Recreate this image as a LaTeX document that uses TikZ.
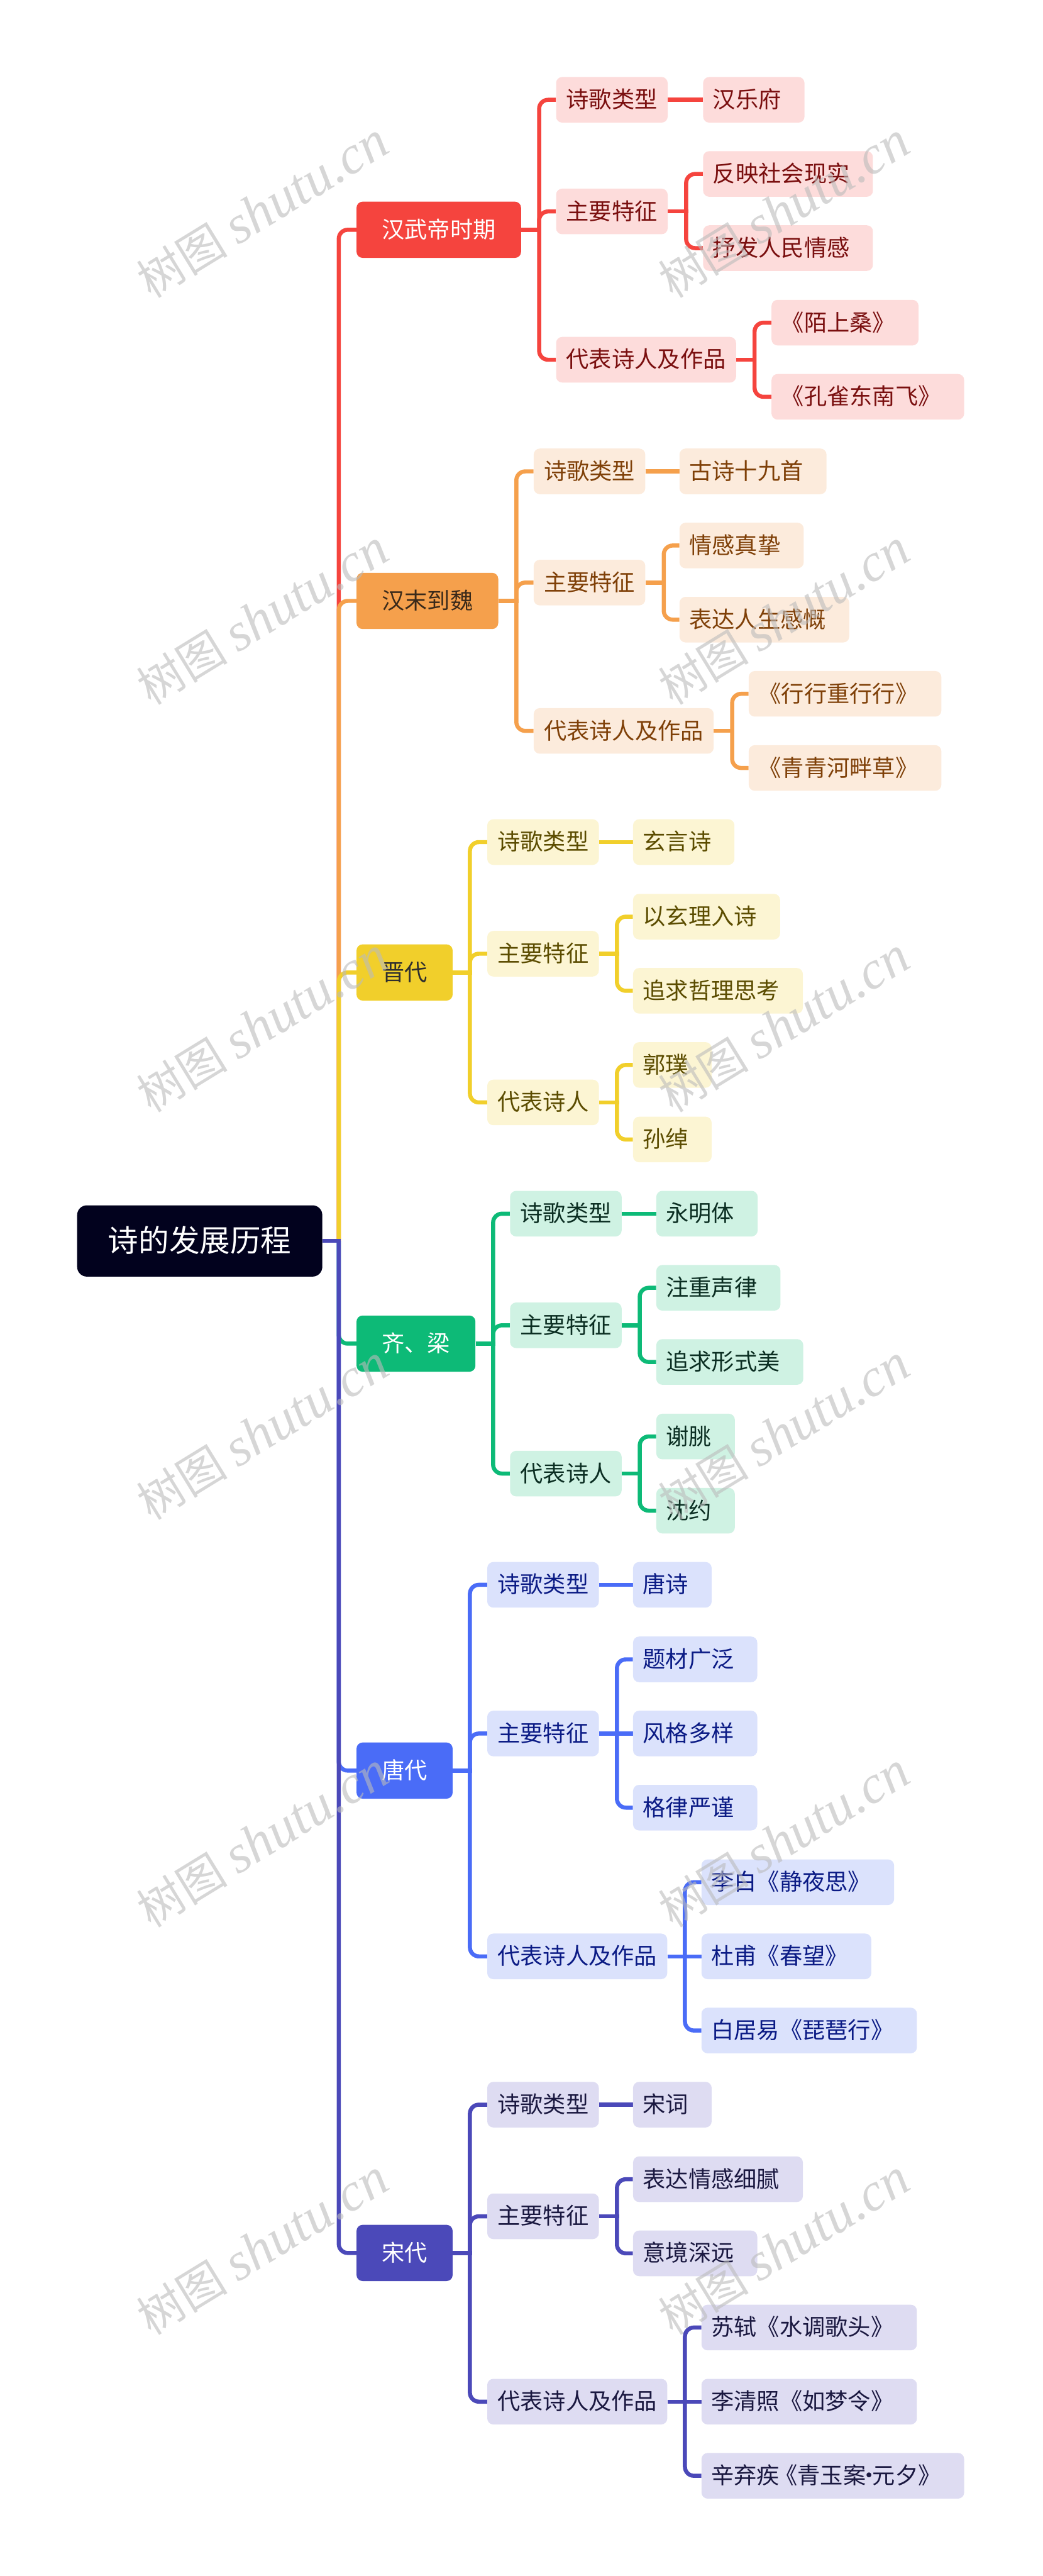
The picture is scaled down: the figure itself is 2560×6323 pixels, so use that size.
\documentclass[tikz,border=0pt]{standalone}
\usepackage{fontspec}
\setmainfont{Noto Sans CJK SC}
\newfontfamily\wmlat{Liberation Serif}
\usetikzlibrary{calc,backgrounds}
\definecolor{cRoot}{HTML}{02021E}
\definecolor{cR}{HTML}{F5443E}\definecolor{cRl}{HTML}{FDDCDB}\definecolor{cRt}{HTML}{7A0F0F}
\definecolor{cO}{HTML}{F5A04C}\definecolor{cOl}{HTML}{FCEBDC}\definecolor{cOt}{HTML}{7F4008}\definecolor{cOh}{HTML}{3A2A1A}
\definecolor{cY}{HTML}{F1CF2B}\definecolor{cYl}{HTML}{FCF5D3}\definecolor{cYt}{HTML}{5B4C00}\definecolor{cYh}{HTML}{2F2F2F}
\definecolor{cG}{HTML}{0DBA77}\definecolor{cGl}{HTML}{CFF2E3}\definecolor{cGt}{HTML}{0B2E22}
\definecolor{cB}{HTML}{4A6CF7}\definecolor{cBl}{HTML}{DBE2FC}\definecolor{cBt}{HTML}{0B1B85}
\definecolor{cP}{HTML}{4B49B9}\definecolor{cPl}{HTML}{DEDCF2}\definecolor{cPt}{HTML}{1A1840}
\definecolor{wm}{HTML}{BBBBBB}
\newcommand\padr[1]{\hspace*{12pt}#1\hspace*{28.5pt}}
\newcommand\wireto[4]{%
  \draw[wire,#1] (#2.east) -- ($(#2.east)+(#4+5,0)$);
  \draw[wire,#1,rounded corners=11pt] ($(#2.east)+(#4,0)$) |- (#3.west);}
\newcommand\wirest[3]{\draw[wire,#1] (#2.east) -- (#3.west);}
\newcommand\wmark[2]{\node[wmk] (#1) at (#2) {树图 {\wmlat\itshape\fontsize{66pt}{70pt}\selectfont shutu.cn}};}
\begin{document}
\begin{tikzpicture}[x=0.5pt,y=-0.5pt,
  base/.style={rounded corners=7.5pt, inner ysep=0pt, text height=24pt, text depth=4pt,
    font=\fontsize{28pt}{30pt}\selectfont, anchor=west},
  rootbox/.style={base, fill=cRoot, text=white, minimum height=87.5pt, inner xsep=38pt,
    rounded corners=12pt, font=\fontsize{37.5pt}{40pt}\selectfont, text height=32pt, text depth=5.5pt},
  lone/.style={base, minimum height=69pt, inner xsep=31pt},
  ltwo/.style={base, minimum height=56pt, inner xsep=12.5pt},
  lthree/.style={base, minimum height=56pt, inner xsep=0pt},
  Rone/.style={lone, fill=cR, text=white}, Rtwo/.style={ltwo, fill=cRl, text=cRt}, Rthree/.style={lthree, fill=cRl, text=cRt},
  Oone/.style={lone, fill=cO, text=cOh}, Otwo/.style={ltwo, fill=cOl, text=cOt}, Othree/.style={lthree, fill=cOl, text=cOt},
  Yone/.style={lone, fill=cY, text=cYh}, Ytwo/.style={ltwo, fill=cYl, text=cYt}, Ythree/.style={lthree, fill=cYl, text=cYt},
  Gone/.style={lone, fill=cG, text=white}, Gtwo/.style={ltwo, fill=cGl, text=cGt}, Gthree/.style={lthree, fill=cGl, text=cGt},
  Bone/.style={lone, fill=cB, text=white}, Btwo/.style={ltwo, fill=cBl, text=cBt}, Bthree/.style={lthree, fill=cBl, text=cBt},
  Pone/.style={lone, fill=cP, text=white}, Ptwo/.style={ltwo, fill=cPl, text=cPt}, Pthree/.style={lthree, fill=cPl, text=cPt},
  wire/.style={line width=5pt},
  wmk/.style={rotate=31.5, text=wm, text opacity=0.6, font=\fontsize{56pt}{60pt}\selectfont, inner sep=0pt}
]
\useasboundingbox (0,0) rectangle (2560,6323);
% root
\node[rootbox] (root) at (189,3046) {诗的发展历程};
% red
\node[Rone] (r1) at (875,564) {汉武帝时期};
\node[Rtwo] (r2a) at (1365,245) {诗歌类型};
\node[Rthree] (r3a) at (1726,245) {\padr{汉乐府}};
\node[Rtwo] (r2b) at (1365,519) {主要特征};
\node[Rthree] (r3b) at (1726,427) {\padr{反映社会现实}};
\node[Rthree] (r3c) at (1726,609) {\padr{抒发人民情感}};
\node[Rtwo] (r2c) at (1365,883) {代表诗人及作品};
\node[Rthree] (r3d) at (1894,792) {\padr{《陌上桑》}};
\node[Rthree] (r3e) at (1894,974) {\padr{《孔雀东南飞》}};
% orange
\node[Oone] (o1) at (875,1475) {汉末到魏};
\node[Otwo] (o2a) at (1310,1157) {诗歌类型};
\node[Othree] (o3a) at (1668,1157) {\padr{古诗十九首}};
\node[Otwo] (o2b) at (1310,1430) {主要特征};
\node[Othree] (o3b) at (1668,1339) {\padr{情感真挚}};
\node[Othree] (o3c) at (1668,1521) {\padr{表达人生感慨}};
\node[Otwo] (o2c) at (1310,1794) {代表诗人及作品};
\node[Othree] (o3d) at (1838,1703) {\padr{《行行重行行》}};
\node[Othree] (o3e) at (1838,1885) {\padr{《青青河畔草》}};
% yellow
\node[Yone] (y1) at (875,2387) {晋代};
\node[Ytwo] (y2a) at (1196,2067) {诗歌类型};
\node[Ythree] (y3a) at (1554,2067) {\padr{玄言诗}};
\node[Ytwo] (y2b) at (1196,2341) {主要特征};
\node[Ythree] (y3b) at (1554,2250) {\padr{以玄理入诗}};
\node[Ythree] (y3c) at (1554,2432) {\padr{追求哲理思考}};
\node[Ytwo] (y2c) at (1196,2706) {代表诗人};
\node[Ythree] (y3d) at (1554,2614) {\padr{郭璞}};
\node[Ythree] (y3e) at (1554,2797) {\padr{孙绰}};
% green
\node[Gone] (g1) at (875,3298) {齐、梁};
\node[Gtwo] (g2a) at (1252,2979) {诗歌类型};
\node[Gthree] (g3a) at (1611,2979) {\padr{永明体}};
\node[Gtwo] (g2b) at (1252,3253) {主要特征};
\node[Gthree] (g3b) at (1611,3161) {\padr{注重声律}};
\node[Gthree] (g3c) at (1611,3343) {\padr{追求形式美}};
\node[Gtwo] (g2c) at (1252,3617) {代表诗人};
\node[Gthree] (g3d) at (1611,3526) {\padr{谢朓}};
\node[Gthree] (g3e) at (1611,3708) {\padr{沈约}};
% blue
\node[Bone] (b1) at (875,4346) {唐代};
\node[Btwo] (b2a) at (1196,3890) {诗歌类型};
\node[Bthree] (b3a) at (1554,3890) {\padr{唐诗}};
\node[Btwo] (b2b) at (1196,4255) {主要特征};
\node[Bthree] (b3b) at (1554,4073) {\padr{题材广泛}};
\node[Bthree] (b3c) at (1554,4255) {\padr{风格多样}};
\node[Bthree] (b3d) at (1554,4437) {\padr{格律严谨}};
\node[Btwo] (b2c) at (1196,4802) {代表诗人及作品};
\node[Bthree] (b3e) at (1722,4620) {\padr{李白《静夜思》}};
\node[Bthree] (b3f) at (1722,4802) {\padr{杜甫《春望》}};
\node[Bthree] (b3g) at (1722,4984) {\padr{白居易《琵琶行》}};
% purple
\node[Pone] (p1) at (875,5530) {宋代};
\node[Ptwo] (p2a) at (1196,5166) {诗歌类型};
\node[Pthree] (p3a) at (1554,5166) {\padr{宋词}};
\node[Ptwo] (p2b) at (1196,5440) {主要特征};
\node[Pthree] (p3b) at (1554,5349) {\padr{表达情感细腻}};
\node[Pthree] (p3c) at (1554,5531) {\padr{意境深远}};
\node[Ptwo] (p2c) at (1196,5895) {代表诗人及作品};
\node[Pthree] (p3d) at (1722,5713) {\padr{苏轼《水调歌头》}};
\node[Pthree] (p3e) at (1722,5895) {\padr{李清照《如梦令》}};
\node[Pthree] (p3f) at (1722,6077) {\padr{辛弃疾\kern-6pt《青玉案\kern-10pt·\kern-10pt元夕》}};
\begin{pgfonlayer}{background}
% root level, drawn in order so later ones cover the shared trunk
\wireto{cR}{root}{r1}{40}
\wireto{cO}{root}{o1}{40}
\wireto{cY}{root}{y1}{40}
\wireto{cG}{root}{g1}{40}
\wireto{cB}{root}{b1}{40}
\wireto{cP}{root}{p1}{40}
% red
\wireto{cR}{r1}{r2a}{44}\wireto{cR}{r1}{r2b}{44}\wireto{cR}{r1}{r2c}{44}
\wirest{cR}{r2a}{r3a}
\wireto{cR}{r2b}{r3b}{45}\wireto{cR}{r2b}{r3c}{45}
\wireto{cR}{r2c}{r3d}{45}\wireto{cR}{r2c}{r3e}{45}
% orange
\wireto{cO}{o1}{o2a}{44}\wireto{cO}{o1}{o2b}{44}\wireto{cO}{o1}{o2c}{44}
\wirest{cO}{o2a}{o3a}
\wireto{cO}{o2b}{o3b}{45}\wireto{cO}{o2b}{o3c}{45}
\wireto{cO}{o2c}{o3d}{45}\wireto{cO}{o2c}{o3e}{45}
% yellow
\wireto{cY}{y1}{y2a}{42}\wireto{cY}{y1}{y2b}{42}\wireto{cY}{y1}{y2c}{42}
\wirest{cY}{y2a}{y3a}
\wireto{cY}{y2b}{y3b}{44}\wireto{cY}{y2b}{y3c}{44}
\wireto{cY}{y2c}{y3d}{44}\wireto{cY}{y2c}{y3e}{44}
% green
\wireto{cG}{g1}{g2a}{43}\wireto{cG}{g1}{g2b}{43}\wireto{cG}{g1}{g2c}{43}
\wirest{cG}{g2a}{g3a}
\wireto{cG}{g2b}{g3b}{44}\wireto{cG}{g2b}{g3c}{44}
\wireto{cG}{g2c}{g3d}{44}\wireto{cG}{g2c}{g3e}{44}
% blue
\wireto{cB}{b1}{b2a}{42}\wireto{cB}{b1}{b2b}{42}\wireto{cB}{b1}{b2c}{42}
\wirest{cB}{b2a}{b3a}
\wireto{cB}{b2b}{b3b}{44}\wirest{cB}{b2b}{b3c}\wireto{cB}{b2b}{b3d}{44}
\wireto{cB}{b2c}{b3e}{43}\wirest{cB}{b2c}{b3f}\wireto{cB}{b2c}{b3g}{43}
% purple
\wireto{cP}{p1}{p2a}{42}\wireto{cP}{p1}{p2b}{42}\wireto{cP}{p1}{p2c}{42}
\wirest{cP}{p2a}{p3a}
\wireto{cP}{p2b}{p3b}{44}\wireto{cP}{p2b}{p3c}{44}
\wireto{cP}{p2c}{p3d}{43}\wirest{cP}{p2c}{p3e}\wireto{cP}{p2c}{p3f}{43}
\end{pgfonlayer}
% watermarks
\wmark{w1}{645,516}\wmark{w2}{1925,516}
\wmark{w3}{645,1516}\wmark{w4}{1925,1516}
\wmark{w5}{645,2516}\wmark{w6}{1925,2516}
\wmark{w7}{645,3516}\wmark{w8}{1925,3516}
\wmark{w9}{645,4516}\wmark{w10}{1925,4516}
\wmark{w11}{645,5516}\wmark{w12}{1925,5516}
\end{tikzpicture}
\end{document}
